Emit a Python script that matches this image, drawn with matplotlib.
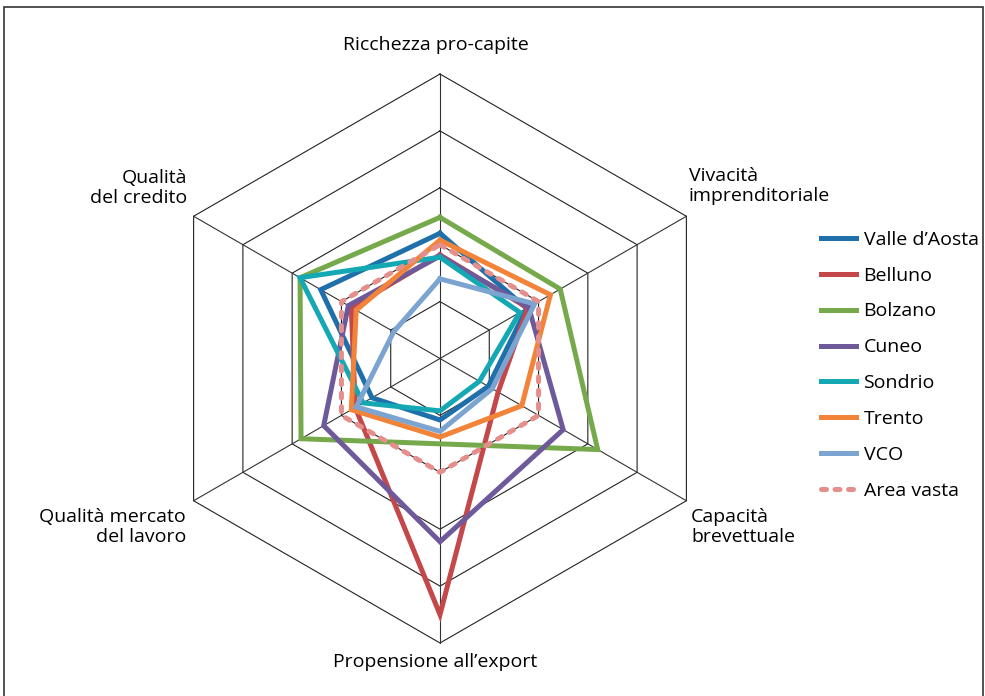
import numpy as np
import matplotlib
matplotlib.use("Agg")
from matplotlib import pyplot as plt
from matplotlib.patches import Rectangle

plt.rcParams['font.family'] = ['Open Sans', 'DejaVu Sans']

# axes clockwise from the top
assi = ["Ricchezza pro-capite", "Vivacità\nimprenditoriale", "Capacità\nbrevettuale",
        "Propensione all\u2019export", "Qualità mercato\ndel lavoro", "Qualità\ndel credito"]

# index values, area vasta = 100
valle_aosta = [110, 88, 49, 54, 69, 121]
belluno     = [91, 89, 59, 225, 86, 90]
bolzano     = [124, 122, 160, 75, 141, 142]
cuneo       = [90, 90, 125, 161, 118, 93]
sondrio     = [89, 81, 40, 46, 78, 142]
trento      = [104, 112, 83, 69, 90, 85]
vco         = [70, 96, 53, 64, 85, 47]
area_vasta  = [100, 100, 100, 100, 100, 100]

serie = [("Valle d\u2019Aosta", valle_aosta, "#1f6fab"),
         ("Belluno", belluno, "#c4474a"),
         ("Bolzano", bolzano, "#76a94c"),
         ("Cuneo", cuneo, "#6e5a9b"),
         ("Sondrio", sondrio, "#14a8b5"),
         ("Trento", trento, "#f2843a"),
         ("VCO", vco, "#7ba4d0")]

anelli = [50, 100, 150, 200, 250]
rmax = 250

n = len(assi)
ang = np.arange(n) * 2 * np.pi / n


def xy(vals):
    v = np.asarray(vals, dtype=float)
    x = v * np.sin(ang)
    y = v * np.cos(ang)
    return np.append(x, x[0]), np.append(y, y[0])


W, H = 985, 696
fig = plt.figure(figsize=(W / 100, H / 100), dpi=100)
ax = fig.add_axes([0, 0, 1, 1])
ax.axis('off')

# pixel placement of the centre and scale (px per unit)
cx, cy = 440, 358.5
k = 284.5 / rmax
ax.set_xlim(-cx / k, (W - cx) / k)
ax.set_ylim(-(H - cy) / k, cy / k)

# hexagonal grid
for r in anelli:
    gx, gy = xy([r] * n)
    ax.plot(gx, gy, color='#222222', lw=0.8, zorder=1)
for a in ang:
    ax.plot([0, rmax * np.sin(a)], [0, rmax * np.cos(a)], color='#333333', lw=0.8, zorder=1)

lw = 3.6
for nome, vals, col in serie:
    sx, sy = xy(vals)
    ax.plot(sx, sy, color=col, lw=lw, solid_joinstyle='miter', label=nome, zorder=3)

sx, sy = xy(area_vasta)
ax.plot(sx, sy, color='#e58f8d', lw=lw, dashes=(1.0, 1.7), dash_capstyle='round',
        label="Area vasta", zorder=4)

# axis labels
fs = 14
ax.text((436 - cx) / k, (cy - 45) / k, assi[0], ha='center', va='center', fontsize=fs)
ax.text((689 - cx) / k, (cy - 186) / k, assi[1], ha='left', va='center', fontsize=fs, linespacing=1.2)
ax.text((691 - cx) / k, (cy - 527) / k, assi[2], ha='left', va='center', fontsize=fs, linespacing=1.2)
ax.text((435 - cx) / k, (cy - 662) / k, assi[3], ha='center', va='center', fontsize=fs)
ax.text((186 - cx) / k, (cy - 527) / k, assi[4], ha='right', va='center', fontsize=fs,
        multialignment='right', linespacing=1.2)
ax.text((187 - cx) / k, (cy - 188) / k, assi[5], ha='right', va='center', fontsize=fs,
        multialignment='right', linespacing=1.2)

leg = ax.legend(loc='upper left', bbox_to_anchor=(811 / W, 1 - 221 / H),
                bbox_transform=fig.transFigure, frameon=False, fontsize=fs,
                handlelength=1.8, handletextpad=0.4, labelspacing=0.92, borderpad=0)

# outer frame
fig.patches.append(Rectangle((4 / W, -0.01), 979 / W, 1 - 7 / H + 0.01, transform=fig.transFigure,
                             fill=False, edgecolor='#333333', lw=1.2))

fig.savefig("out.png", dpi=100)
